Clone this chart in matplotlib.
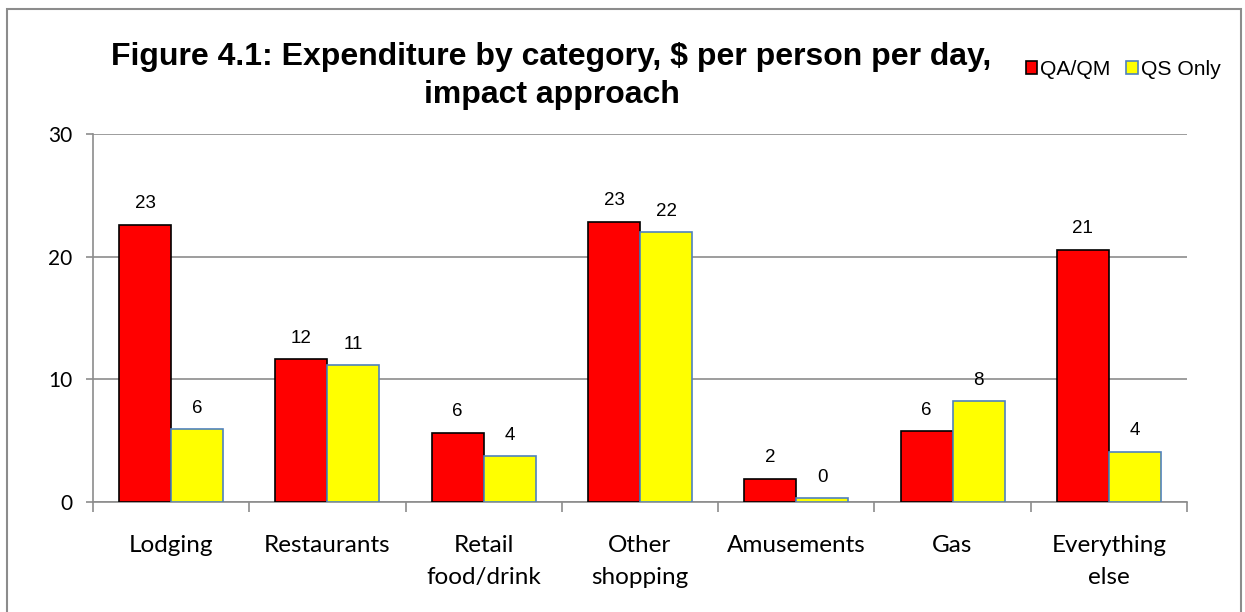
import numpy as np
import matplotlib.pyplot as plt
from matplotlib.patches import Rectangle
from matplotlib.ticker import FixedLocator, NullFormatter

categories = ["Lodging", "Restaurants", "Retail\nfood/drink", "Other\nshopping",
              "Amusements", "Gas", "Everything\nelse"]
qa_qm = [22.6, 11.65, 5.66, 22.86, 1.88, 5.77, 20.55]
qs_only = [5.93, 11.16, 3.73, 22.0, 0.3, 8.2, 4.08]
series_names = ["QA/QM", "QS Only"]
y_ticks = [0, 10, 20, 30]

title_lines = ["Figure 4.1: Expenditure by category, $ per person per day,",
               "impact approach"]

fig = plt.figure(figsize=(12.45, 6.12), dpi=100)
ax = fig.add_axes([0.0747, 0.1797, 0.8787, 0.6013])

x = np.arange(len(categories))
w = 0.333
b1 = ax.bar(x - w / 2, qa_qm, w, color="#FF0000", edgecolor="#000000", linewidth=1.2,
            label=series_names[0], zorder=3)
b2 = ax.bar(x + w / 2, qs_only, w, color="#FFFF00", edgecolor="#4F81BD", linewidth=1.2,
            label=series_names[1], zorder=3)

for bars in (b1, b2):
    ax.bar_label(bars, fmt="%.0f", padding=9, fontsize=13.5, family="Liberation Sans")

ax.set_xlim(-0.5, len(categories) - 0.5)
ax.set_ylim(0, 30)
ax.set_yticks(y_ticks)
ax.set_yticklabels([str(t) for t in y_ticks], fontsize=15, family="Lato")
ax.yaxis.grid(True, color="#8C8C8C", linewidth=1.2, zorder=0)
ax.set_axisbelow(True)

ax.set_xticks(x)
ax.set_xticklabels(categories, fontsize=17.5, family="Lato", linespacing=1.6)
ax.xaxis.set_minor_locator(FixedLocator(np.arange(len(categories) + 1) - 0.5))
ax.xaxis.set_minor_formatter(NullFormatter())
ax.tick_params(axis="x", which="major", length=0, pad=24)
ax.tick_params(axis="x", which="minor", length=7, width=1.2, color="#8C8C8C")
ax.tick_params(axis="y", length=5, width=1.2, color="#8C8C8C", pad=10)

for side in ("top", "right"):
    ax.spines[side].set_visible(False)
for side in ("left", "bottom"):
    ax.spines[side].set_color("#8C8C8C")
    ax.spines[side].set_linewidth(1.2)

# title, one line at a time so each baseline sits where it should
for line, yb in zip(title_lines, (0.893, 0.832)):
    fig.text(0.443, yb, line, ha="center", va="baseline", fontsize=23,
             fontweight="bold", family="Liberation Sans")

leg = fig.legend(loc="center right", bbox_to_anchor=(0.996, 0.886), ncol=2,
                 frameon=False, handlelength=0.55, handleheight=0.55,
                 handletextpad=0.15, columnspacing=0.75,
                 prop={"family": "Liberation Sans", "size": 15.2})

# outer chart frame
fig.patches.append(Rectangle((0.0056, -0.05), 0.9912, 1.035, transform=fig.transFigure,
                             fill=False, edgecolor="#8C8C8C", linewidth=1.5))

fig.savefig("out.png", dpi=100)
